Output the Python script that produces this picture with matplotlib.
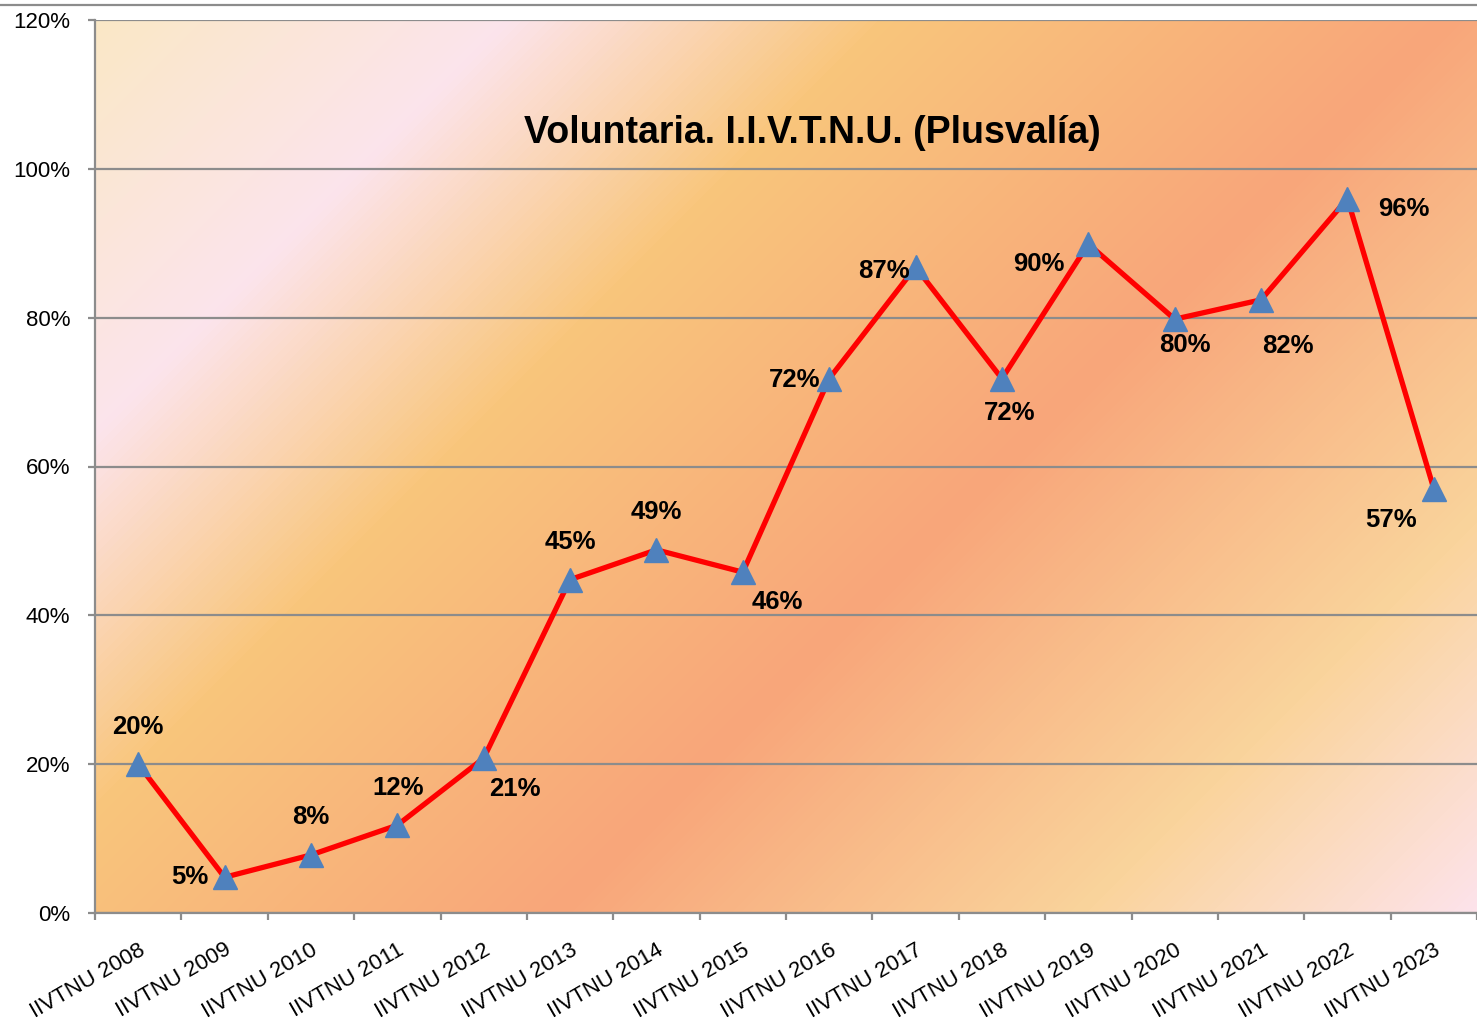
import numpy as np
import matplotlib
matplotlib.use("Agg")
import matplotlib.pyplot as plt
from matplotlib.colors import LinearSegmentedColormap, to_rgb

# ---------------- data ----------------
categories = ["IIVTNU 2008", "IIVTNU 2009", "IIVTNU 2010", "IIVTNU 2011",
              "IIVTNU 2012", "IIVTNU 2013", "IIVTNU 2014", "IIVTNU 2015",
              "IIVTNU 2016", "IIVTNU 2017", "IIVTNU 2018", "IIVTNU 2019",
              "IIVTNU 2020", "IIVTNU 2021", "IIVTNU 2022", "IIVTNU 2023"]
values = [20.0, 4.8, 7.8, 11.8, 20.8, 44.8, 48.8, 45.8,
          71.8, 86.8, 71.8, 89.9, 79.8, 82.4, 96.0, 57.0]
y_ticks = [0, 20, 40, 60, 80, 100, 120]
title = "Voluntaria. I.I.V.T.N.U. (Plusvalía)"

# label offsets (pixels, relative to point; x right, y up)
label_offsets = [(0, 37), (-35, 0), (0, 38), (1, 37), (31, -31), (0, 38),
                 (0, 38), (34, -30), (-35, -1), (-32, -4), (8, -34),
                 (-49, -20), (10, -26), (27, -46), (56, -10), (-43, -31)]

W, H = 1477, 1036
fig = plt.figure(figsize=(W / 100, H / 100), dpi=100)
fig.patch.set_facecolor("white")

ax_l, ax_r, ax_t, ax_b = 95, 1477, 20, 913
ax = fig.add_axes([ax_l / W, 1 - ax_b / H, (ax_r - ax_l) / W, (ax_b - ax_t) / H])

# ---------------- gradient background ----------------
stops = [(115, "#FAE8C6"), (525, "#FCE4EC"), (900, "#F9C67C"),
         (1470, "#F8A67A"), (2000, "#FAD49C"), (2390, "#FDE3EB")]
s0, s1 = stops[0][0], stops[-1][0]
cmap = LinearSegmentedColormap.from_list(
    "bg", [((s - s0) / (s1 - s0), to_rgb(c)) for s, c in stops])
xs = np.arange(ax_l, ax_r)
ys = np.arange(ax_t, ax_b)
S = (xs[None, :] + ys[:, None] - s0) / (s1 - s0)
ax.imshow(S, cmap=cmap, vmin=0, vmax=1, extent=[-0.5, 15.5, 0, 120],
          aspect="auto", origin="upper", zorder=0, interpolation="bilinear")

# ---------------- axes styling ----------------
ax.set_xlim(-0.5, 15.5)
ax.set_ylim(0, 120)
grey = "#8C8C8C"
for sp in ["top", "right"]:
    ax.spines[sp].set_visible(False)
for sp in ["left", "bottom"]:
    ax.spines[sp].set_color(grey)
    ax.spines[sp].set_linewidth(1.6)

ax.set_axisbelow(True)
ax.set_yticks(y_ticks)
ax.set_yticklabels([f"{v}%" for v in y_ticks])
ax.yaxis.grid(True, color=grey, linewidth=1.6)
ax.tick_params(axis="y", length=5, width=1.6, color=grey, pad=13)

x = np.arange(len(categories))
ax.set_xticks(x)
ax.set_xticklabels(categories, rotation=30, ha="right", va="top",
                   rotation_mode="anchor")
ax.set_xticks(np.arange(-0.5, len(categories)), minor=True)
ax.tick_params(axis="x", which="major", length=0, pad=19)
ax.tick_params(axis="x", which="minor", length=5, width=1.6, color=grey)

for lab in ax.get_xticklabels() + ax.get_yticklabels():
    lab.set_fontfamily("Liberation Sans")
    lab.set_fontsize(16)
    lab.set_fontstyle("normal")
    lab.set_fontweight("normal")

# ---------------- series ----------------
ax.plot(x, values, color="#FF0000", linewidth=3.8, zorder=3)
ax.plot(x, values, linestyle="none", marker="^", markersize=17,
        markerfacecolor="#4F81BD", markeredgecolor="#4F81BD", zorder=4)

for xi, v, (dx, dy) in zip(x, values, label_offsets):
    ax.annotate(f"{v:.0f}%", (xi, v), xytext=(dx, dy), textcoords="offset pixels",
                ha="center", va="center", fontsize=18.5, fontweight="bold",
                fontfamily="Liberation Sans", color="black", zorder=5)

# title
fig.text(812 / W, 1 - 133 / H, title, ha="center", va="center",
         fontsize=27, fontweight="bold", fontfamily="Liberation Sans")

# top border line of the chart
fig.add_artist(plt.Line2D([0, 1], [1 - 5 / H, 1 - 5 / H], color=grey,
                          linewidth=1.6, transform=fig.transFigure))

fig.savefig("out.png", dpi=100)
